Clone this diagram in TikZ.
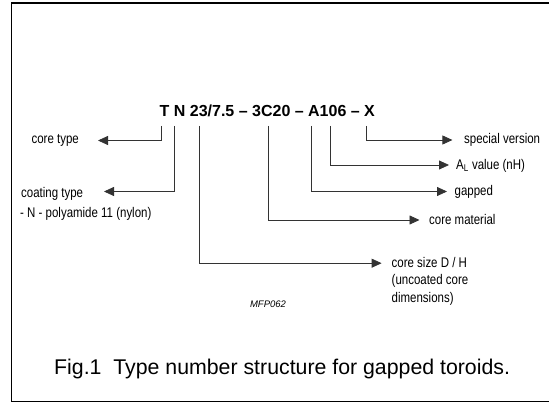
\documentclass[tikz,border=0pt]{standalone}
\usepackage{fontspec}
\setmainfont{Liberation Sans}
\newfontfamily\narrowfont{Liberation Sans}[FakeStretch=0.82]
\usetikzlibrary{arrows.meta}
\begin{document}
\begin{tikzpicture}[x=1pt,y=-1pt,
  lab/.style={font=\narrowfont\fontsize{14}{16}\selectfont, inner sep=0pt, anchor=base west},
  conn/.style={draw=black!80, line width=0.8pt, -{Triangle[length=10pt,width=9pt]}},
  frame/.style={draw=black, line width=1.6pt, line join=miter}
]
\useasboundingbox (0,0) rectangle (549,403);
\fill[white] (0,0) rectangle (549,403);
\draw[frame] (565,3) -- (11.5,3) -- (11.5,401.6) -- (565,401.6);

% type number
\node[font=\bfseries\fontsize{16}{19}\selectfont, inner sep=0pt, anchor=base west] (code) at (159.5,116.5) {T N 23/7.5 \textendash{} 3C20 \textendash{} A106 \textendash{} X};

% tops of the connectors
\coordinate (pT) at (161.5,126);
\coordinate (pN) at (174.7,126);
\coordinate (pS) at (199.8,126);
\coordinate (pM) at (268.2,126);
\coordinate (pA) at (311.8,126);
\coordinate (pV) at (329.9,126);
\coordinate (pX) at (366.6,126);

% arrow tips
\coordinate (eT) at (98,140.5);
\coordinate (eN) at (104,191.5);
\coordinate (eX) at (452.4,140);
\coordinate (eV) at (449,165);
\coordinate (eA) at (447,191.5);
\coordinate (eM) at (419.5,220);
\coordinate (eS) at (381.6,263.2);

% labels
\node[lab, anchor=base east] (ctype) at (79,144) {core type};
\node[lab] (coat) at (21,197.2) {coating type};
\node[lab] (poly) at (20,217.2) {- N - polyamide 11 (nylon)};
\node[lab] (spec) at (464,144) {special version};
\node[lab] (alv) at (456,169.7) {A\textsubscript{L} value (nH)};
\node[lab] (gapd) at (454.5,195.7) {gapped};
\node[lab] (mat) at (429,224.7) {core material};
\node[lab] (size1) at (391.5,267.2) {core size D / H};
\node[lab] (size2) at (391.5,284.7) {(uncoated core};
\node[lab] (size3) at (391.5,302.2) {dimensions)};

\node[font=\itshape\fontsize{9.5}{11}\selectfont, inner sep=0pt, anchor=base] (mfp) at (268,307.5) {MFP062};

\node[font=\fontsize{21.3}{25}\selectfont, inner sep=0pt, anchor=base west] (cap) at (54,374) {Fig.1\ \ Type number structure for gapped toroids.};

% connectors
\draw[conn] (pT) |- (eT);
\draw[conn] (pN) |- (eN);
\draw[conn] (pS) |- (eS);
\draw[conn] (pM) |- (eM);
\draw[conn] (pA) |- (eA);
\draw[conn] (pV) |- (eV);
\draw[conn] (pX) |- (eX);
\end{tikzpicture}
\end{document}
